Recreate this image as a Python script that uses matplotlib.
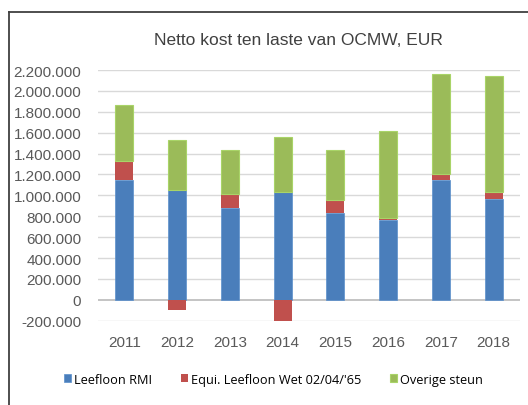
import matplotlib.pyplot as plt
import numpy as np
from matplotlib.lines import Line2D

jaren = ['2011', '2012', '2013', '2014', '2015', '2016', '2017', '2018']
leefloon = [1146000, 1054000, 881000, 1033000, 833000, 764000, 1144000, 962000]
equi = [180000, -100000, 135000, -211000, 125000, 21000, 60000, 72000]
overige = [539000, 476000, 419000, 523000, 476000, 831000, 961000, 1109000]

titel = 'Netto kost ten laste van OCMW, EUR'
namen = ['Leefloon RMI', "Equi. Leefloon Wet 02/04/'65", 'Overige steun']
kleuren = ['#4a7ebb', '#c0504d', '#9bbb59']

fig = plt.figure(figsize=(5.28, 4.06), dpi=100)
ax = fig.add_axes([0.1856, 0.2076, 0.7994, 0.6175])

x = np.arange(len(jaren))
blauw = np.array(leefloon)
rood = np.array(equi)
groen = np.array(overige)
rood_bodem = np.where(rood >= 0, blauw, 0)
groen_bodem = blauw + np.clip(rood, 0, None)

w = 0.34
ax.bar(x, blauw, w, color=kleuren[0], edgecolor='#5a8fcc', linewidth=0.5, label=namen[0], zorder=3)
ax.bar(x, rood, w, bottom=rood_bodem, color=kleuren[1], linewidth=0, label=namen[1], zorder=3)
ax.bar(x, groen, w, bottom=groen_bodem, color=kleuren[2], edgecolor='#a9d468', linewidth=0.8, label=namen[2], zorder=3)

ax.set_xlim(-0.5, len(jaren) - 0.5)
ax.set_ylim(-200000, 2200000)
ticks = np.arange(-200000, 2200001, 200000)
ax.set_yticks(ticks)
ax.set_yticklabels([f'{t:,}'.replace(',', '.') for t in ticks])
ax.set_xticks(x)
ax.set_xticklabels(jaren)
ax.tick_params(length=0, labelsize=11, colors='#595959', labelfontfamily='Liberation Sans')
ax.tick_params(axis='x', pad=10)
ax.tick_params(axis='y', pad=12)
for t in ticks:
    ax.axhline(t, color='#bfbfbf' if t == 0 else '#d9d9d9', lw=1.3 if t == 0 else 1.0, zorder=1)
for s in ax.spines.values():
    s.set_visible(False)

fig.text(0.565, 0.9, titel, ha='center', va='center', fontsize=12.5,
         family='Liberation Sans', color='#404040')

fig.legend(loc='center', bbox_to_anchor=(0.518, 0.064), ncol=3, frameon=False,
           handlelength=0.55, handleheight=0.55, handletextpad=0.2, columnspacing=2.3,
           prop={'family': 'Open Sans', 'size': 9.2})

# kader links en boven
fig.add_artist(Line2D([9 / 528, 1], [1 - 13 / 406, 1 - 13 / 406], color='#404040', lw=1.3))
fig.add_artist(Line2D([9 / 528, 9 / 528], [0, 1 - 13 / 406], color='#404040', lw=1.3))

fig.savefig('out.png', dpi=100)
